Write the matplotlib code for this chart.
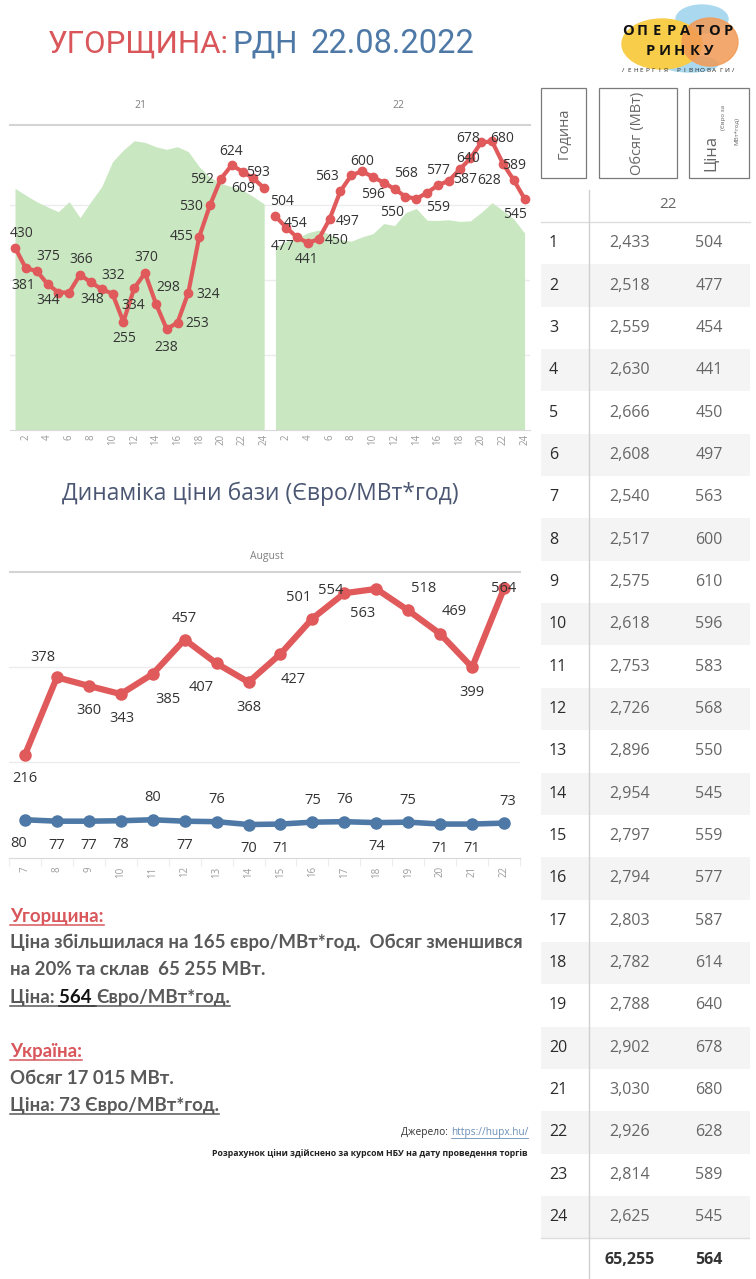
import numpy as np
import matplotlib.pyplot as plt
from matplotlib.patches import Rectangle, Ellipse
from matplotlib.lines import Line2D

W, H = 756, 1279

# hourly data (day 21, day 22 from the table)
hours = list(range(1, 25))
price_21 = [430, 381, 375, 344, 324, 324, 366, 348, 332, 321, 255, 334,
            370, 298, 238, 253, 324, 455, 530, 592, 624, 609, 593, 570]
volume_21 = [3222, 3130, 3044, 2975, 2911, 3044, 2831, 3044, 3244, 3577, 3733, 3857,
             3835, 3777, 3742, 3777, 3711, 3511, 3369, 3289, 3244, 3200, 3111, 3013]
price_22 = [504, 477, 454, 441, 450, 497, 563, 600, 610, 596, 583, 568,
            550, 545, 559, 577, 587, 614, 640, 678, 680, 628, 589, 545]
volume_22 = [2433, 2518, 2559, 2630, 2666, 2608, 2540, 2517, 2575, 2618, 2753, 2726,
             2896, 2954, 2797, 2794, 2803, 2782, 2788, 2902, 3030, 2926, 2814, 2625]
total_volume = 65255
total_price = 564

# daily base prices, August
days = list(range(7, 23))
hu_base = [216, 378, 360, 343, 385, 457, 407, 368, 427, 501, 554, 563, 518, 469, 399, 564]
ua_base = [80, 77, 77, 78, 80, 77, 76, 70, 71, 75, 76, 74, 75, 71, 71, 73]

# label offsets in pixels (dx, dy down), missing hour = no label
off_21 = {1: (7, -14), 2: (-3, 17), 3: (12, -14), 4: (1, 16), 7: (1, -15), 8: (1, 17),
          9: (12, -14), 11: (1, 17), 12: (-1, 17), 13: (1, -15), 14: (12, -16), 15: (0, 18),
          16: (20, 1), 17: (20, 2), 18: (-17, 0), 19: (-19, 1), 20: (-19, 1), 21: (-1, -14),
          22: (1, 17), 23: (5, -6)}
off_22 = {1: (7, -15), 2: (-4, 19), 3: (-1, -14), 4: (-1, 17), 5: (18, 1), 6: (18, 2),
          7: (-13, -15), 8: (11, -14), 10: (0, 17), 12: (11, -15), 13: (-13, 16), 15: (11, 15),
          16: (0, -15), 17: (16, -1), 19: (-2, 0), 20: (-13, -4), 21: (10, -3), 22: (-14, 17),
          23: (0, -15), 24: (-10, 16)}
off_hu = [(0, 24), (-14, -20), (0, 25), (1, 24), (15, 26), (0, -21), (-15, 24), (0, 25),
          (13, 26), (-14, -21), (-14, -3), (-14, 25), (15, -22), (14, -22), (0, 25), (0, 0)]
off_ua = ['b', 'b', 'b', 'b', 'a', 'b', 'a', 'b', 'b', 'a', 'a', 'b', 'a', 'b', 'b', 'a']

RED = '#e05a5c'
BLUE = '#4e79a7'
GREEN = '#c9e7c1'
GRID = '#ececec'
FONT = 'Open Sans'

plt.rcParams['font.family'] = [FONT, 'DejaVu Sans']

fig = plt.figure(figsize=(W / 100, H / 100), dpi=100)
renderer = fig.canvas.get_renderer()


def box(x0, y0, x1, y1):
    return [x0 / W, 1 - y1 / H, (x1 - x0) / W, (y1 - y0) / H]


def ftext(x, y, s, **kw):
    return fig.text(x / W, 1 - y / H, s, **kw)


def fline(x0, y0, x1, y1, **kw):
    fig.add_artist(Line2D([x0 / W, x1 / W], [1 - y0 / H, 1 - y1 / H], **kw))


def clean(ax):
    for s in ['top', 'left', 'right']:
        ax.spines[s].set_visible(False)
    ax.spines['bottom'].set_color('#d9d9d9')
    ax.tick_params(axis='y', left=False, right=False, labelleft=False, labelright=False)


# ---------- title ----------
ftext(48, 53, 'УГОРЩИНА:', color='#d9575b', fontsize=22.5, family='Roboto', va='baseline')
ftext(232, 53, 'РДН', color=BLUE, fontsize=22.5, family='Roboto', va='baseline')
ftext(310, 53, '22.08.2022', color=BLUE, fontsize=23.5, family='Roboto', va='baseline')

# ---------- logo ----------
lg = fig.add_axes(box(612, 2, 748, 78))
lg.set_xlim(0, 136)
lg.set_ylim(76, 0)
lg.axis('off')
lg.add_patch(Ellipse((90, 17), 52, 28, color='#aad9ef'))
lg.add_patch(Ellipse((78, 62), 56, 16, color='#aad9ef'))
lg.add_patch(Ellipse((50, 42), 80, 50, color='#f7cd4a'))
lg.add_patch(Ellipse((98, 40), 56, 48, color='#f29a55', alpha=0.85))
for i, ch in enumerate('ОПЕРАТОР'):
    lg.text(16 + i * 14.3, 29, ch, ha='center', va='center', fontsize=10.5, fontweight='bold', color='#111')
for i, ch in enumerate('РИНКУ'):
    lg.text(38 + i * 14.8, 49, ch, ha='center', va='center', fontsize=10.5, fontweight='bold', color='#111')
for i, ch in enumerate('/ЕНЕРГІЯ РІВНОВАГИ/'):
    lg.text(11 + i * 6.1, 69, ch, ha='center', va='center', fontsize=4.6, color='#222')

# ---------- hourly panels ----------
fline(10, 125, 530, 125, color='#d4d4d4', lw=1.5)
ftext(140, 106, '21', ha='center', va='center', fontsize=7.5, color='#808080')
ftext(398, 106, '22', ha='center', va='center', fontsize=7.5, color='#808080')


def hour_panel(x0, x1, price, volume, offs):
    ax = fig.add_axes(box(x0, 130, x1, 430))
    ax.fill_between(hours, volume, 0, color=GREEN, lw=0)
    ax.set_ylim(0, 4000)
    ax.set_xlim(0.5, 24.5)
    ax.set_yticks([1000, 2000, 3000])
    ax.grid(axis='y', color=GRID, lw=1)
    ax.set_axisbelow(True)
    ax.set_xticks(range(2, 25, 2))
    ax.tick_params(axis='x', length=0, labelsize=7, labelcolor='#9a9a9a',
                   labelrotation=90, pad=3)
    ax2 = ax.twinx()
    ax2.set_ylim(0, 707)
    ax2.plot(hours, price, color=RED, lw=3, marker='o', ms=6, solid_capstyle='round')
    clean(ax)
    clean(ax2)
    ax2.spines['bottom'].set_visible(False)
    for h, p in zip(hours, price):
        if h in offs:
            dx, dy = offs[h]
            ax2.annotate(str(p), (h, p), xytext=(dx * 0.72, -dy * 0.72), textcoords='offset points',
                         ha='center', va='center', fontsize=10, color='#333333')


hour_panel(9.6, 269.6, price_21, volume_21, off_21)
hour_panel(270, 530, price_22, volume_22, off_22)

# ---------- middle title ----------
ftext(260, 494, 'Динаміка ціни бази (Євро/МВт*год)', ha='center', va='center',
      fontsize=16.5, color='#4b5772')

# ---------- daily chart ----------
fline(10, 572, 520, 572, color='#d4d4d4', lw=1.5)
ftext(267, 557, 'August', ha='center', va='center', fontsize=7.5, color='#808080')
bx = fig.add_axes(box(9, 576, 520, 858))
bx.set_xlim(6.5, 22.5)
bx.set_ylim(0, 590)
bx.set_yticks([200, 400])
bx.grid(axis='y', color=GRID, lw=1)
bx.set_axisbelow(True)
bx.set_xticks(days)
bx.set_xticks(np.arange(6.5, 23, 1), minor=True)
bx.tick_params(axis='x', which='major', length=0, labelsize=7, labelcolor='#9a9a9a',
               labelrotation=90, pad=6)
bx.tick_params(axis='x', which='minor', length=6, color='#ececec', width=0.8)
clean(bx)
bx.plot(days, hu_base, color=RED, lw=4.5, marker='o', ms=8, solid_capstyle='round')
bx.plot(days, ua_base, color=BLUE, lw=4, marker='o', ms=8, solid_capstyle='round')
for d, v, (dx, dy) in zip(days, hu_base, off_hu):
    bx.annotate(str(v), (d, v), xytext=(dx * 0.72, -dy * 0.72), textcoords='offset points',
                ha='center', va='center', fontsize=10.5, color='#333333')
for i, (d, v, pos) in enumerate(zip(days, ua_base, off_ua)):
    dy = 24 if pos == 'b' else -22
    dx = -6 if i == 0 else (4 if i == len(days) - 1 else 0)
    bx.annotate(str(v), (d, v), xytext=(dx * 0.72, -dy * 0.72), textcoords='offset points',
                ha='center', va='center', fontsize=10.5, color='#333333')

# ---------- text block ----------
TXT = '#595959'
HEAD = '#d9575b'


def seq_text(x, y, pieces, size, underline=False):
    for s, color in pieces:
        t = ftext(x, y, s, color=color, fontsize=size, fontweight='bold', family='Lato',
                  va='baseline', ha='left')
        w = t.get_window_extent(renderer).width
        if underline:
            fline(x, y + 2.5, x + w, y + 2.5, color=color, lw=1.1)
        x += w


seq_text(10, 922, [('Угорщина:', HEAD)], 13.4, underline=True)
seq_text(10, 948, [('Ціна збільшилася на 165 євро/МВт*год.  Обсяг зменшився', TXT)], 13.4)
seq_text(10, 975, [('на 20% та склав  65 255 МВт.', TXT)], 13.4)
seq_text(10, 1003, [('Ціна: ', TXT), (f'{total_price} ', '#111111'), ('Євро/МВт*год.', TXT)], 13.4,
         underline=True)
seq_text(10, 1057, [('Україна:', HEAD)], 13.4, underline=True)
seq_text(10, 1084, [('Обсяг 17 015 МВт.', TXT)], 13.4)
seq_text(10, 1111, [(f'Ціна: {ua_base[-1]} Євро/МВт*год.', TXT)], 13.4, underline=True)

t = ftext(528, 1132, 'https://hupx.hu/', ha='right', va='center', fontsize=7.3, color='#6b8fb5')
bb = t.get_window_extent(renderer)
fline(bb.x0, H - bb.y0 + 0.5, bb.x1, H - bb.y0 + 0.5, color='#6b8fb5', lw=0.6)
ftext(bb.x0, 1132, 'Джерело: ', ha='right', va='center', fontsize=7.3, color='#333333')
ftext(528, 1153, 'Розрахунок ціни здійснено за курсом НБУ на дату проведення торгів',
      ha='right', va='center', fontsize=6.3, fontweight='bold', color='#222222')

# ---------- table ----------
for (x0, x1) in [(541, 586), (599, 677), (689, 749)]:
    fig.add_artist(Rectangle((x0 / W, 1 - 178 / H), (x1 - x0) / W, 90 / H,
                             transform=fig.transFigure, fill=False, ec='#7a7a7a', lw=0.9))
ftext(564, 133, 'Година', rotation=90, ha='center', va='center', fontsize=10.5, color='#666666')
ftext(638, 133, 'Обсяг (МВт)', rotation=90, ha='center', va='center', fontsize=10.5, color='#666666')
ftext(711, 153, 'Ціна', rotation=90, ha='center', va='center', fontsize=12, color='#666666')
ftext(724, 117, '(Євро за', rotation=90, ha='center', va='center', fontsize=4.5, color='#666666')
ftext(737, 131, 'МВт*год)', rotation=90, ha='center', va='center', fontsize=4.5, color='#666666')

ftext(668, 205, '22', ha='center', va='center', fontsize=11, color='#666666')
tb = fig.add_axes(box(541, 222, 750, 1279))
tb.set_xlim(0, 209)
tb.set_ylim(25.46, 0.5)
tb.axis('off')
for h, v, p in zip(hours, volume_22, price_22):
    if h % 2 == 0:
        tb.axhspan(h - 0.5, h + 0.5, color='#f4f4f4', lw=0)
    tb.text(8, h, str(h), ha='left', va='center', fontsize=11.5, color='#2b2b2b')
    tb.text(89, h, f'{v:,}', ha='center', va='center', fontsize=11.5, color='#666666')
    tb.text(168, h, str(p), ha='center', va='center', fontsize=11.5, color='#666666')
tb.text(89, 25, f'{total_volume:,}', ha='center', va='center', fontsize=11.5,
        fontweight='bold', color='#333333')
tb.text(168, 25, str(total_price), ha='center', va='center', fontsize=11.5,
        fontweight='bold', color='#333333')
tb.axhline(24.5, color='#dddddd', lw=1)
fline(541, 222, 750, 222, color='#dddddd', lw=1)
fline(589, 190, 589, 1279, color='#d0d0d0', lw=1)

fig.savefig('out.png', dpi=100)
